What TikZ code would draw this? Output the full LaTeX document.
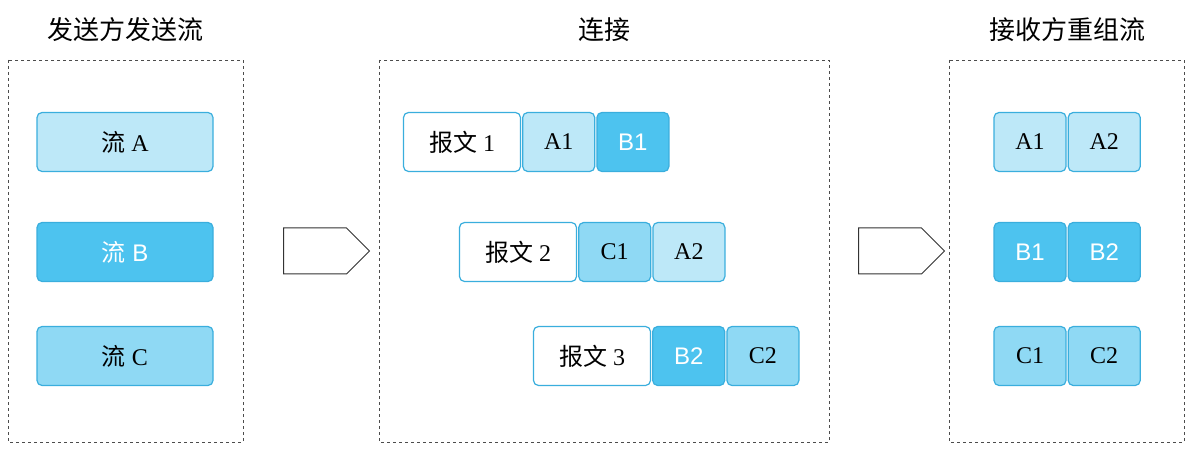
\documentclass[tikz,border=0pt]{standalone}
\usepackage{fontspec}
\setmainfont{Liberation Serif}
\newfontfamily\cjk{Noto Sans CJK SC}
\newfontfamily\latinsans{Liberation Sans}
\usetikzlibrary{positioning,shapes.arrows}
\definecolor{lightA}{HTML}{BDE8F8}
\definecolor{midC}{HTML}{8FD9F4}
\definecolor{darkB}{HTML}{4DC3EF}
\definecolor{edgeblue}{HTML}{3AAEDD}
\begin{document}
\begin{tikzpicture}[x=1pt,y=-1pt,font=\fontsize{24}{28}\selectfont]
    \tikzset{
        cell/.style={draw=edgeblue, line width=1.2pt, rounded corners=5pt, minimum height=59pt, inner sep=0pt},
        streamA/.style={cell, fill=lightA},
        streamB/.style={cell, fill=darkB, text=white, font=\fontsize{24}{28}\latinsans},
        streamC/.style={cell, fill=midC},
        msg/.style={cell, fill=white, minimum width=117pt},
        frame/.style={draw=black!70, dashed, line width=0.8pt},
        title/.style={font=\fontsize{26}{30}\cjk},
        bigarrow/.style={draw=black!80, line width=1pt, fill=white, single arrow, minimum height=86pt, minimum width=46pt, single arrow head extend=0pt, inner sep=9pt, single arrow tip angle=90}
    }
    \useasboundingbox (0,0) rectangle (1199,454);

    % frames and titles
    \draw [frame] (8,60) rectangle (243,442);
    \draw [frame] (379,60) rectangle (829,442);
    \draw [frame] (949,60) rectangle (1184,442);
    \node [title] (tsend) at (125,30) {发送方发送流};
    \node [title] (tconn) at (604,30) {连接};
    \node [title] (trecv) at (1067,30) {接收方重组流};

    % sender streams
    \node [streamA, minimum width=176pt] (fa) at (125,142) {{\cjk 流} A};
    \node [streamB, minimum width=176pt] (fb) at (125,252) {{\cjk 流} B};
    \node [streamC, minimum width=176pt] (fc) at (125,356) {{\cjk 流} C};

    % arrows
    \node [bigarrow] (arr1) at (315,251) {};
    \node [bigarrow] (arr2) at (890,251) {};

    % messages
    \node [msg] (m1) at (462,142) {{\cjk 报文} 1};
    \node [streamA, minimum width=72pt, right=1pt of m1] (m1a) {A1};
    \node [streamB, minimum width=72pt, right=1pt of m1a] (m1b) {B1};
    \node [msg] (m2) at (518,252) {{\cjk 报文} 2};
    \node [streamC, minimum width=72pt, right=1pt of m2] (m2c) {C1};
    \node [streamA, minimum width=72pt, right=1pt of m2c] (m2a) {A2};
    \node [msg] (m3) at (592,356) {{\cjk 报文} 3};
    \node [streamB, minimum width=72pt, right=1pt of m3] (m3b) {B2};
    \node [streamC, minimum width=72pt, right=1pt of m3b] (m3c) {C2};

    % receiver
    \node [streamA, minimum width=72pt] (ra1) at (1030,142) {A1};
    \node [streamA, minimum width=72pt, right=1pt of ra1] (ra2) {A2};
    \node [streamB, minimum width=72pt] (rb1) at (1030,252) {B1};
    \node [streamB, minimum width=72pt, right=1pt of rb1] (rb2) {B2};
    \node [streamC, minimum width=72pt] (rc1) at (1030,356) {C1};
    \node [streamC, minimum width=72pt, right=1pt of rc1] (rc2) {C2};
\end{tikzpicture}
\end{document}
